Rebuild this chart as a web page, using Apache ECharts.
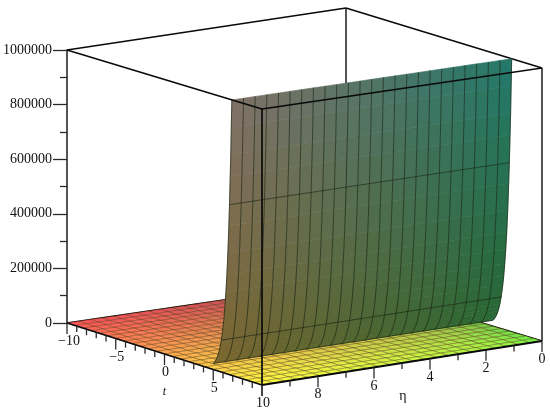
<!DOCTYPE html>
<html><head><meta charset="utf-8">
<style>html,body{margin:0;padding:0;background:#fff}#c{width:550px;height:412px;filter:blur(0.45px)}</style>
<script src="https://cdn.jsdelivr.net/npm/echarts@6/dist/echarts.min.js"></script>
</head><body><div id="c"></div>
<script>
// ---- data ----
const tGrid = [-10,-9.167,-8.333,-7.5,-6.667,-5.833,-5,-4.167,-3.333,-2.5,-1.667,-0.833,0,0.833,1.667,2.5,3.333,4.167,5,5.833,6.667,7.5,8.333,9.167,10];
const etaGrid = [0,0.417,0.833,1.25,1.667,2.083,2.5,2.917,3.333,3.75,4.167,4.583,5,5.417,5.833,6.25,6.667,7.083,7.5,7.917,8.333,8.75,9.167,9.583,10];
const wallT = [5,5.1,5.2,5.3,5.4,5.5,5.6,5.7,5.833,6,6.1,6.2,6.3,6.4,6.5,6.6,6.667,6.74,6.8,6.85,6.908];
const wallZ = [22000,27000,33000,40000,49000,60000,73000,89000,116000,163000,198000,243000,296000,360000,440000,540000,617000,720000,800000,900000,1000000];
const wallGridT = [5,5.833,6.667];
const zTicks = [0,200000,400000,600000,800000,1000000];
const tMajor = [-10,-5,0,5,10];
const tMinor = [-9,-8,-7,-6,-4,-3,-2,-1,1,2,3,4,6,7,8,9];
const etaMajor = [0,2,4,6,8,10];
const etaMinor = [1,3,5,7,9];
const tLabels = ['\u221210','\u22125','0','5','10'];
const etaLabels = ['0','2','4','6','8','10'];

// ---- view: screen position of the eight box corners ----
const T0=-10,T1=10,E0=0,E1=10,Z0=0,Z1=1000000;
const corners = {
  loBackLeft:[67,323], loFront:[262,385], loRight:[542,341], loBack:[346,282],
  hiBackLeft:[67,50],  hiFront:[262,109], hiRight:[542,68],  hiBack:[346,8]
};
function project(t,eta,z){
  const a=(t-T0)/(T1-T0), b=(eta-E0)/(E1-E0), c=(z-Z0)/(Z1-Z0);
  const mix=(p,q,r,s)=>[0,1].map(i=>(1-a)*b*p[i]+a*b*q[i]+a*(1-b)*r[i]+(1-a)*(1-b)*s[i]);
  const lo=mix(corners.loBackLeft,corners.loFront,corners.loRight,corners.loBack);
  const hi=mix(corners.hiBackLeft,corners.hiFront,corners.hiRight,corners.hiBack);
  return [lo[0]+(hi[0]-lo[0])*c, lo[1]+(hi[1]-lo[1])*c];
}
// ---- colours ----
function floorColor(t,eta){
  const a=(t-T0)/(T1-T0), b=eta/E1;
  const r=90+165*Math.pow(b,0.45);
  const g=82+(255-82)*a-(1-b)*5*a;
  const bl=90-22*a;
  return `rgb(${r|0},${g|0},${bl|0})`;
}
function wallColor(eta,z){
  const b=eta/E1, p=z/Z1;
  const r=(40+(122-40)*b)*(1-p)+(35+(130-35)*b)*p;
  const g=(102)*(1-p)+(122-8*b)*p;
  const bl=(50-4*b)*(1-p)+(108-4*b)*p;
  return `rgb(${r|0},${g|0},${bl|0})`;
}
const BLACK='#0a0a0a', AX='#2a2a2a';

function layer(z,items,draw){
  return {type:'custom',coordinateSystem:'cartesian2d',xAxisIndex:0,yAxisIndex:0,z:z,silent:true,animation:false,clip:false,
    data:items.map((_,i)=>[i]),
    renderItem:(p,api)=>{
      const pt=(t,e,zz)=>api.coord(project(t,e,zz));
      return draw(items[p.dataIndex],pt);
    }};
}
const edge=(a,b,color,w)=>({a,b,color,w});
const lineDraw=(s,pt)=>{const A=pt(...s.a),B=pt(...s.b);
  return {type:'line',shape:{x1:A[0],y1:A[1],x2:B[0],y2:B[1]},style:{stroke:s.color,lineWidth:s.w}};};

const backEdges=[
  edge([T0,E0,Z0],[T0,E0,Z1],AX,1.6),
  edge([T0,E1,Z0],[T0,E0,Z0],BLACK,1.6),
  edge([T0,E0,Z0],[T1,E0,Z0],BLACK,1.6),
  edge([T0,E1,Z1],[T0,E0,Z1],BLACK,1.6),
  edge([T0,E0,Z1],[T1,E0,Z1],BLACK,1.6),
  edge([T1,E0,Z0],[T1,E0,Z1],AX,1.6)
];
const frontEdges=[
  edge([T0,E1,Z0],[T1,E1,Z0],BLACK,1.8),
  edge([T1,E1,Z0],[T1,E0,Z0],BLACK,1.8),
  edge([T1,E1,Z0],[T1,E1,Z1],BLACK,1.7),
  edge([T0,E1,Z1],[T1,E1,Z1],BLACK,1.6),
  edge([T1,E1,Z1],[T1,E0,Z1],BLACK,1.6)
];
const floorCells=[];
for(let i=0;i<tGrid.length-1;i++)for(let j=0;j<etaGrid.length-1;j++)floorCells.push([tGrid[i],tGrid[i+1],etaGrid[j],etaGrid[j+1]]);
const wallCells=[];
for(let i=0;i<wallT.length-1;i++)for(let j=0;j<etaGrid.length-1;j++)wallCells.push([i,etaGrid[j],etaGrid[j+1]]);

const ticks=[];
const TK=11,TM=6;
tMajor.forEach(v=>ticks.push({at:[v,E1,Z0],len:TK}));
tMinor.forEach(v=>ticks.push({at:[v,E1,Z0],len:TM}));
etaMajor.forEach(v=>ticks.push({at:[T1,v,Z0],len:TK}));
etaMinor.forEach(v=>ticks.push({at:[T1,v,Z0],len:TM}));

const SERIF='"Liberation Serif","Times New Roman",serif';
const labels=[];
tMajor.forEach((v,i)=>labels.push({at:[v,E1,Z0],text:tLabels[i],dx:i===0?2:1,dy:18.5,font:'14px '+SERIF}));
etaMajor.forEach((v,i)=>{ if(v!==10) labels.push({at:[T1,v,Z0],text:etaLabels[i],dx:0,dy:18.5,font:'14px '+SERIF}); });
labels.push({at:[0,E1,Z0],text:'t',dx:0,dy:38,font:'italic 12px '+SERIF});
labels.push({at:[T1,5,Z0],text:'\u03b7',dx:1,dy:33,font:'14px '+SERIF});

const option={
  animation:false,
  backgroundColor:'#fff',
  grid:[
    {left:0,top:0,width:550,height:412,show:false},
    {left:67,top:50,width:1,height:273,show:false}
  ],
  xAxis:[
    {gridIndex:0,type:'value',min:0,max:550,show:false},
    {gridIndex:1,type:'value',min:0,max:1,show:false}
  ],
  yAxis:[
    {gridIndex:0,type:'value',min:0,max:412,inverse:true,show:false},
    {gridIndex:1,type:'value',min:zTicks[0],max:zTicks[zTicks.length-1],interval:200000,position:'left',
     axisLine:{show:true,lineStyle:{color:AX,width:1.6}},
     axisTick:{show:true,length:14,lineStyle:{color:AX,width:1.3}},
     minorTick:{show:true,splitNumber:2,length:7,lineStyle:{color:AX,width:1.3}},
     splitLine:{show:false},minorSplitLine:{show:false},
     axisLabel:{show:true,margin:15,color:'#111',fontSize:14,fontFamily:'Liberation Serif',formatter:v=>String(v)}}
  ],
  series:[
    layer(1,backEdges,lineDraw),
    layer(2,floorCells,(c,pt)=>({type:'polygon',
      shape:{points:[pt(c[0],c[2],0),pt(c[1],c[2],0),pt(c[1],c[3],0),pt(c[0],c[3],0)]},
      style:{fill:floorColor((c[0]+c[1])/2,(c[2]+c[3])/2),stroke:'rgba(70,40,0,0.36)',lineWidth:0.9}})),
    layer(3,wallCells,(c,pt)=>{
      const i=c[0],col=wallColor((c[1]+c[2])/2,(wallZ[i]+wallZ[i+1])/2);
      return {type:'polygon',
        shape:{points:[pt(wallT[i],c[1],wallZ[i]),pt(wallT[i+1],c[1],wallZ[i+1]),pt(wallT[i+1],c[2],wallZ[i+1]),pt(wallT[i],c[2],wallZ[i])]},
        style:{fill:col,stroke:col,lineWidth:0.6}};
    }),
    layer(4,etaGrid,(e,pt)=>({type:'polyline',
      shape:{points:wallT.map((t,i)=>pt(t,e,wallZ[i]))},
      style:{fill:null,stroke:'rgba(20,30,15,0.62)',lineWidth:1}})),
    layer(4,wallGridT,(t,pt)=>{const z=wallZ[wallT.indexOf(t)];
      return {type:'polyline',shape:{points:etaGrid.map(e=>pt(t,e,z))},
        style:{fill:null,stroke:'rgba(20,30,15,0.62)',lineWidth:1}};}),
    layer(5,frontEdges,lineDraw),
    layer(5,ticks,(k,pt)=>{const A=pt(...k.at);
      return {type:'line',shape:{x1:A[0],y1:A[1],x2:A[0],y2:A[1]+k.len},style:{stroke:AX,lineWidth:1.3}};}),
    layer(6,labels,(l,pt)=>{const A=pt(...l.at);
      return {type:'text',x:A[0]+l.dx,y:A[1]+l.dy,style:{text:l.text,font:l.font,fill:'#111',align:'center',verticalAlign:'middle'}};})
  ]
};
const chart=echarts.init(document.getElementById('c'),null,{renderer:'canvas'});
chart.setOption(option);
</script></body></html>
